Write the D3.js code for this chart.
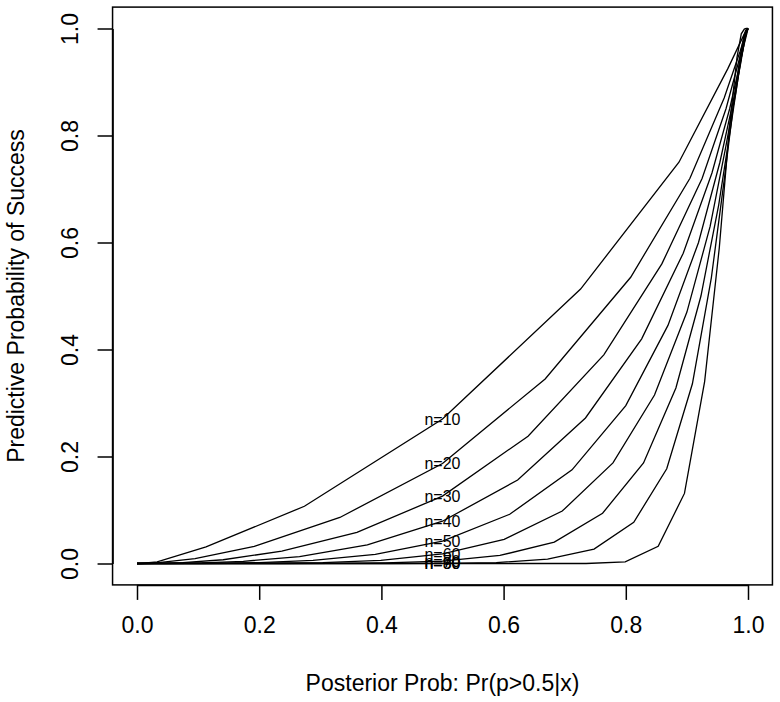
<!DOCTYPE html>
<meta charset="utf-8">
<style>
    body { margin: 0; background: #fff; }
    text { font-family: "Liberation Sans", Arial, sans-serif; fill: #000; }
    .axis text { font-size: 23px; }
    .axis path, .axis line { stroke: #000; stroke-width: 1.5; }
    .frame { fill: none; stroke: #000; stroke-width: 1.5; }
    path.curve { fill: none; stroke: #000; stroke-width: 1.3; }
    .curve-label { font-size: 16px; }
    .title { font-size: 23px; }
</style>
<body>
<script src="https://d3js.org/d3.v7.min.js"></script>
<script>

    // interim sample sizes, one curve each
    var sampleSizes = [10, 20, 30, 40, 50, 60, 70, 80, 90];

    // x: posterior Pr(p>0.5|x), y: predictive probability of success
    var post10 = [0, 0.006, 0.033, 0.113, 0.274, 0.5, 0.726, 0.887, 0.967, 0.994, 1.0];
    var pred10 = [0, 0.0002, 0.003, 0.031, 0.107, 0.27, 0.513, 0.75, 0.925, 0.99, 1.0];

    var post20 = [0, 0.004, 0.013, 0.039, 0.095, 0.192, 0.332, 0.5, 0.668, 0.808, 0.905, 0.961, 0.987, 0.996, 0.999, 1.0];
    var pred20 = [0, 0, 0.0003, 0.002, 0.009, 0.032, 0.086, 0.187, 0.345, 0.535, 0.72, 0.87, 0.957, 0.99, 0.998, 1.0];

    var post30 = [0, 0.006, 0.016, 0.036, 0.075, 0.141, 0.237, 0.36, 0.5, 0.64, 0.764, 0.859, 0.925, 0.964, 0.984, 0.994, 0.998, 1.0];
    var pred30 = [0, 0, 0.0001, 0.0003, 0.0015, 0.007, 0.023, 0.058, 0.126, 0.238, 0.39, 0.56, 0.72, 0.85, 0.935, 0.978, 0.994, 1.0];

    var post40 = [0, 0.014, 0.03, 0.059, 0.106, 0.174, 0.266, 0.377, 0.5, 0.623, 0.734, 0.826, 0.894, 0.941, 0.97, 0.986, 0.994, 0.998, 1.0];
    var pred40 = [0, 0, 0.0001, 0.0002, 0.001, 0.004, 0.013, 0.035, 0.079, 0.156, 0.272, 0.42, 0.58, 0.73, 0.85, 0.93, 0.972, 0.99, 1.0];

    var post50 = [0, 0.025, 0.047, 0.081, 0.131, 0.2, 0.288, 0.39, 0.5, 0.61, 0.712, 0.8, 0.869, 0.919, 0.954, 0.975, 0.988, 0.994, 0.997, 1.0];
    var pred50 = [0, 0, 0, 0.0001, 0.0004, 0.0017, 0.006, 0.017, 0.042, 0.092, 0.175, 0.295, 0.445, 0.6, 0.75, 0.86, 0.935, 0.975, 0.992, 1.0];

    var post60 = [0, 0.037, 0.062, 0.1, 0.153, 0.221, 0.304, 0.399, 0.5, 0.601, 0.696, 0.779, 0.847, 0.9, 0.938, 0.963, 0.98, 0.989, 0.995, 0.998, 1.0];
    var pred60 = [0, 0, 0, 0, 0.0001, 0.0005, 0.0018, 0.006, 0.018, 0.045, 0.098, 0.188, 0.315, 0.47, 0.63, 0.775, 0.88, 0.945, 0.98, 0.994, 1.0];

    var post70 = [0, 0.118, 0.238, 0.317, 0.406, 0.5, 0.594, 0.683, 0.762, 0.829, 0.882, 0.923, 0.952, 0.971, 0.984, 0.991, 0.9955, 0.998, 1.0];
    var pred70 = [0, 0, 0, 0.0003, 0.0012, 0.0045, 0.015, 0.04, 0.094, 0.188, 0.328, 0.5, 0.67, 0.81, 0.91, 0.965, 0.99, 0.997, 1.0];

    var post80 = [0, 0.06, 0.187, 0.328, 0.412, 0.5, 0.588, 0.672, 0.748, 0.813, 0.867, 0.909, 0.94, 0.962, 0.977, 0.987, 0.993, 0.996, 0.998, 1.0];
    var pred80 = [0, 0, 0, 0, 0, 0.0003, 0.0018, 0.008, 0.027, 0.077, 0.177, 0.336, 0.534, 0.725, 0.865, 0.947, 0.985, 0.996, 0.999, 1.0];

    var post90 = [0, 0.147, 0.5, 0.735, 0.799, 0.853, 0.896, 0.929, 0.953, 0.97, 0.982, 0.989, 0.994, 0.997, 1.0];
    var pred90 = [0, 0, 0, 0, 0.003, 0.032, 0.131, 0.34, 0.59, 0.82, 0.946, 0.99, 0.999, 1.0, 1.0];

    var xTicks = [0, 0.2, 0.4, 0.6, 0.8, 1.0];
    var yTicks = [0, 0.2, 0.4, 0.6, 0.8, 1.0];

    var posts = [post10, post20, post30, post40, post50, post60, post70, post80, post90];
    var preds = [pred10, pred20, pred30, pred40, pred50, pred60, pred70, pred80, pred90];

    var dim = {
        width: 780, height: 702,
        plot: {left: 137, right: 748, top: 28.5, bottom: 563.5},
        tick: 15
    };

    var x = d3.scaleLinear().domain([0, 1]).range([dim.plot.left, dim.plot.right]);
    var y = d3.scaleLinear().domain([0, 1]).range([dim.plot.bottom, dim.plot.top]);

    var svg = d3.select("body").append("svg")
            .attr("width", dim.width)
            .attr("height", dim.height);

    svg.append("rect")
        .attr("width", dim.width)
        .attr("height", dim.height)
        .attr("fill", "#fff");

    var series = sampleSizes.map(function(n, i) {
        return {
            n: n,
            points: posts[i].map(function(p, j) { return {x: p, y: preds[i][j]}; })
        };
    });

    var line = d3.line()
            .x(function(d) { return x(d.x); })
            .y(function(d) { return y(d.y); });

    svg.append("g").selectAll("path")
        .data(series)
        .enter().append("path")
            .attr("class", "curve")
            .attr("d", function(d) { return line(d.points); });

    // label each curve where the posterior is 0.5
    svg.append("g").selectAll("text")
        .data(series)
        .enter().append("text")
            .attr("class", "curve-label")
            .attr("text-anchor", "middle")
            .attr("dy", "0.36em")
            .attr("x", x(0.5))
            .attr("y", function(d) {
                var mid = d.points.find(function(p) { return p.x === 0.5; });
                return y(mid.y);
            })
            .text(function(d) { return "n=" + d.n; });

    // box with R style 4% padding
    svg.append("rect")
        .attr("class", "frame")
        .attr("x", x(-0.04))
        .attr("y", y(1.04))
        .attr("width", x(1.04) - x(-0.04))
        .attr("height", y(-0.04) - y(1.04));

    var xAxis = d3.axisBottom(x)
            .tickValues(xTicks)
            .tickFormat(d3.format(".1f"))
            .tickSize(dim.tick)
            .tickSizeOuter(0)
            .tickPadding(17);

    svg.append("g")
        .attr("class", "x axis")
        .attr("transform", "translate(0," + y(-0.04) + ")")
        .call(xAxis)
        .attr("font-family", null)
        .attr("font-size", null);

    var yAxis = d3.axisLeft(y)
            .tickValues(yTicks)
            .tickFormat(d3.format(".1f"))
            .tickSize(dim.tick)
            .tickSizeOuter(0);

    var yg = svg.append("g")
        .attr("class", "y axis")
        .attr("transform", "translate(" + x(-0.04) + ",0)")
        .call(yAxis)
        .attr("font-family", null)
        .attr("font-size", null);

    // tick labels parallel to the axis
    yg.selectAll(".tick text")
        .attr("transform", "rotate(-90)")
        .attr("x", 0)
        .attr("y", -35)
        .attr("dy", null)
        .attr("text-anchor", "middle");

    svg.append("text")
        .attr("class", "title")
        .attr("text-anchor", "middle")
        .attr("x", x(0.5))
        .attr("y", 691)
        .text("Posterior Prob: Pr(p>0.5|x)");

    svg.append("text")
        .attr("class", "title")
        .attr("text-anchor", "middle")
        .attr("transform", "translate(24," + y(0.5) + ") rotate(-90)")
        .text("Predictive Probability of Success");

</script>
